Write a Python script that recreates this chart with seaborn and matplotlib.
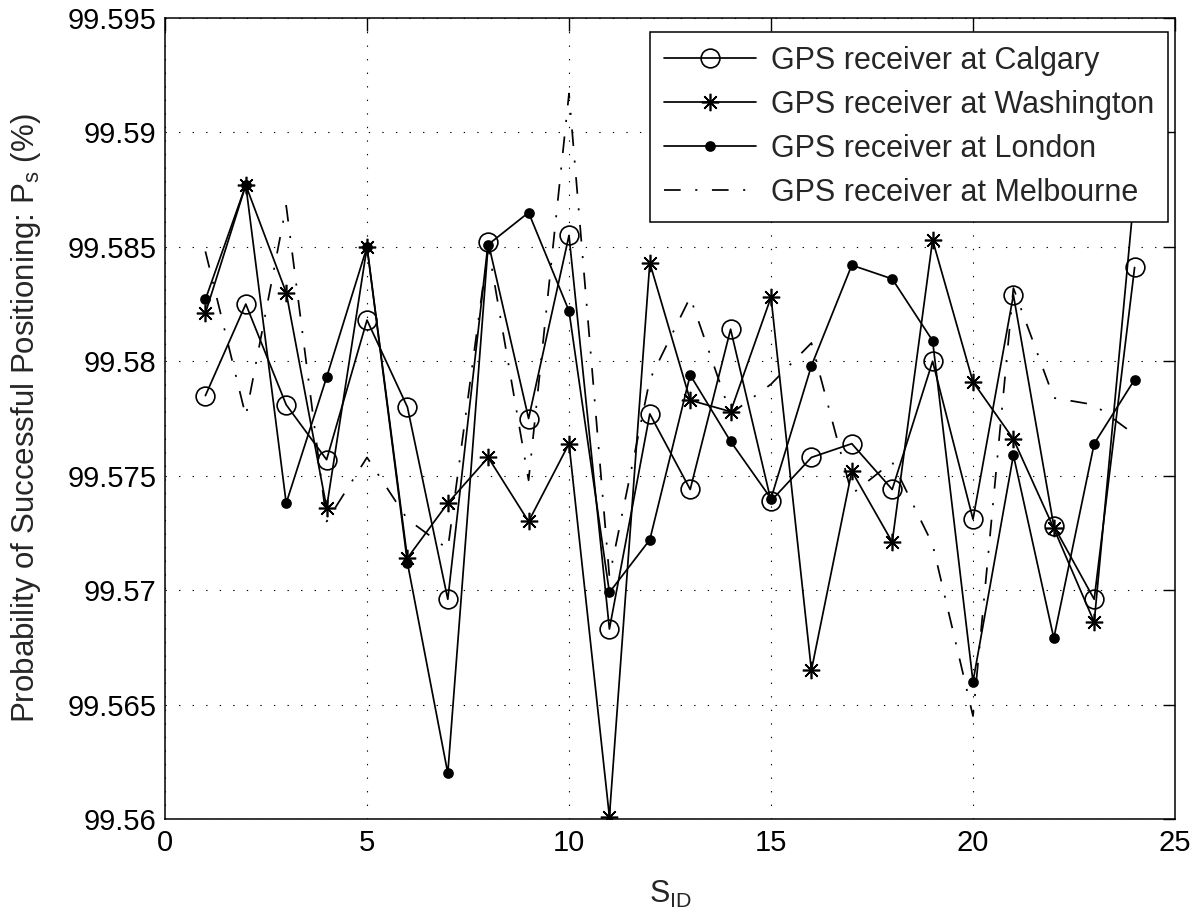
import matplotlib
matplotlib.use('Agg')
import matplotlib.pyplot as plt
import seaborn as sns
from matplotlib.ticker import FuncFormatter, MultipleLocator

# satellite id on the x axis
sid = list(range(1, 25))

# probability of successful positioning (%)
calgary = [99.5785, 99.5825, 99.5781, 99.5757, 99.5818, 99.5780, 99.5696, 99.5852,
           99.5775, 99.5855, 99.5683, 99.5777, 99.5744, 99.5814, 99.5739, 99.5758,
           99.5764, 99.5744, 99.5800, 99.5731, 99.5829, 99.5728, 99.5696, 99.5841]
washington = [99.5821, 99.5877, 99.5830, 99.5736, 99.5850, 99.5714, 99.5738, 99.5758,
              99.5730, 99.5764, 99.5601, 99.5843, 99.5783, 99.5778, 99.5828, 99.5665,
              99.5752, 99.5721, 99.5853, 99.5791, 99.5766, 99.5727, 99.5686, 99.5875]
london = [99.5827, 99.5877, 99.5738, 99.5793, 99.5850, 99.5712, 99.5620, 99.5851,
          99.5865, 99.5822, 99.5699, 99.5722, 99.5794, 99.5765, 99.5740, 99.5798,
          99.5842, 99.5836, 99.5809, 99.5660, 99.5759, 99.5679, 99.5764, 99.5792]
melbourne = [99.5848, 99.5776, 99.5868, 99.5730, 99.5758, 99.5731, 99.5718, 99.5850,
             99.5748, 99.5917, 99.5706, 99.5792, 99.5828, 99.5777, 99.5790, 99.5808,
             99.5742, 99.5756, 99.5720, 99.5645, 99.5832, 99.5784, 99.5781, 99.5768]

labels = ['GPS receiver at Calgary', 'GPS receiver at Washington',
          'GPS receiver at London', 'GPS receiver at Melbourne']


def main():
    sns.set_theme(style='white')
    plt.rcParams['font.family'] = ['Liberation Sans', 'DejaVu Sans']
    plt.rcParams['mathtext.fontset'] = 'custom'
    plt.rcParams['mathtext.rm'] = 'Liberation Sans'
    plt.rcParams['mathtext.default'] = 'regular'

    fig = plt.figure(figsize=(12, 9.13), dpi=100)
    ax = fig.add_axes([165 / 1200, 94 / 913, 1010 / 1200, 801 / 913])

    styles = [
        dict(marker='o', markersize=13.5, markerfacecolor='none', linestyle='-'),
        dict(marker=(8, 2, 0), markersize=12.5, linestyle='-'),
        dict(marker='o', markersize=6.5, markerfacecolor='black', linestyle='-'),
        dict(marker='', linestyle=(0, (9.6, 8.4, 1.2, 8.4))),
    ]
    series = [calgary, washington, london, melbourne]

    for vals, lab, kw in zip(series, labels, styles):
        sns.lineplot(x=sid, y=vals, ax=ax, color='black', linewidth=1.25,
                     markeredgecolor='black', markeredgewidth=1.2,
                     label=lab, **kw)

    ax.set_xlim(0, 25)
    ax.set_ylim(99.56, 99.595)
    ax.xaxis.set_major_locator(MultipleLocator(5))
    ax.yaxis.set_major_locator(MultipleLocator(0.005))
    ax.yaxis.set_major_formatter(FuncFormatter(lambda v, _: f'{v:g}'))

    ax.grid(True, color='black', linewidth=0.8, linestyle=(0, (1.2, 11)))
    for sp in ax.spines.values():
        sp.set_visible(True)
        sp.set_color('black')
        sp.set_linewidth(1.1)
    ax.tick_params(direction='in', top=True, right=True, length=9, width=1,
                   labelsize=21, colors='black')
    ax.tick_params(axis='x', pad=7)
    ax.tick_params(axis='y', pad=6)

    ax.set_xlabel('S$_{ID}$', fontsize=22, labelpad=16)
    ax.set_ylabel('Probability of Successful Positioning: P$_s$ (%)',
                  fontsize=22.5, labelpad=18)

    leg = ax.legend(loc='upper right', bbox_to_anchor=(1003 / 1010, 787 / 801),
                    borderaxespad=0, fontsize=22, handlelength=3.0,
                    handletextpad=0.5, labelspacing=0.46, borderpad=0.45,
                    fancybox=False, framealpha=1, edgecolor='black', frameon=True)
    leg.get_frame().set_linewidth(1.1)

    fig.savefig('out.png', dpi=100)
    plt.close()


if __name__ == '__main__':
    main()
